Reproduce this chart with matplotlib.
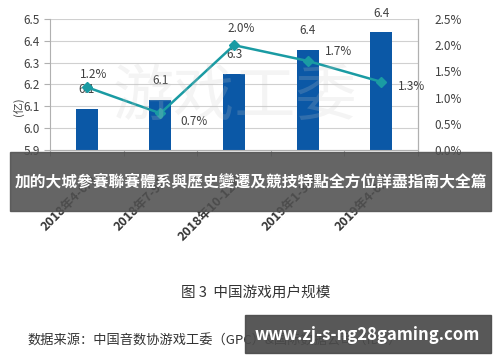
import numpy as np
import matplotlib
matplotlib.use("Agg")
import matplotlib.pyplot as plt
from matplotlib.patches import Rectangle

plt.rcParams['font.family'] = ['Noto Sans CJK SC', 'DejaVu Sans']

periods = ["2018年4-6月", "2018年7-9月", "2018年10-12月", "2019年1-3月", "2019年4-6月"]
users = [6.09, 6.13, 6.25, 6.36, 6.44]          # 亿
user_labels = ["6.1", "6.1", "6.3", "6.4", "6.4"]
growth = [1.2, 0.7, 2.0, 1.7, 1.3]              # %
growth_labels = ["1.2%", "0.7%", "2.0%", "1.7%", "1.3%"]

banner = "加的大城參賽聯賽體系與歷史變遷及競技特點全方位詳盡指南大全篇"
caption = "图 3  中国游戏用户规模"
source = "数据来源：中国音数协游戏工委（GPC）&国际数据公司（IDC）"
site = "www.zj-s-ng28gaming.com"

bar_color = "#0b58a6"
line_color = "#1a9ba3"
txt = "#404040"

fig = plt.figure(figsize=(5, 3.62), dpi=100)
ax = fig.add_axes([0.1, 0.5856, 0.736, 0.362])
x = np.arange(len(periods))

ax.bar(x, users, width=0.3, color=bar_color, zorder=2)
ax.set_ylim(5.9, 6.5)
ax.set_xlim(-0.5, len(periods) - 0.5)
ax.set_yticks(np.arange(5.9, 6.51, 0.1))
ax.set_yticklabels(["%.1f" % v for v in np.arange(5.9, 6.51, 0.1)])
ax.yaxis.grid(True, color="#d0d0d0", lw=0.8, zorder=0)
ax.set_axisbelow(True)
ax.spines["top"].set_visible(False)
for s in ["left", "bottom", "right"]:
    ax.spines[s].set_color("#b0b0b0")
ax.tick_params(axis="y", colors=txt, labelsize=8.5, length=4, color="#b0b0b0")
ax.set_xticks(np.arange(-0.5, len(periods), 1.0))
ax.set_xticklabels([])
ax.tick_params(axis="x", length=4, color="#b0b0b0")
for i, p in enumerate(periods):
    ax.text(i + 0.18, 5.80, p, rotation=45, ha="right", va="top",
            fontsize=9, color="#333333", fontweight="bold", clip_on=False)
for i, (v, lab) in enumerate(zip(users, user_labels)):
    ax.annotate(lab, (i, v), xytext=(0, 9), textcoords="offset points",
                ha="center", va="bottom", fontsize=8.5, color=txt)
ax.text(-0.085, 0.33, "(亿)", transform=ax.transAxes, rotation=90,
        ha="center", va="center", fontsize=8, color=txt)

ax2 = ax.twinx()
ax2.plot(x, growth, color=line_color, lw=1.8, marker="D", ms=5, zorder=3)
ax2.set_ylim(0, 2.5)
ax2.set_yticks(np.arange(0, 2.51, 0.5))
ax2.set_yticklabels(["%.1f%%" % v for v in np.arange(0, 2.51, 0.5)])
ax2.tick_params(axis="y", colors=txt, labelsize=8.5, length=0, pad=12)
for s in ["top", "left", "bottom"]:
    ax2.spines[s].set_visible(False)
ax2.spines["right"].set_color("#b0b0b0")
offsets = [(5, 9), (24, -6), (5, 12), (22, 7), (22, -3)]
for i, (g, lab) in enumerate(zip(growth, growth_labels)):
    ax2.annotate(lab, (i, g), xytext=offsets[i], textcoords="offset points",
                 ha="center", va="center", fontsize=8.5, color=txt)

# faint watermark over the plot
fig.text(0.47, 0.73, "游戏工委", fontsize=44, color="#c8c8c8", alpha=0.2,
         ha="center", va="center", zorder=5, fontweight="light")

# banner overlay
fig.patches.append(Rectangle((0.02, 1 - 211 / 362), 0.962, 59 / 362,
                             transform=fig.transFigure, color="#505050",
                             alpha=0.88, zorder=10))
fig.text(0.501, 1 - 182 / 362, banner, ha="center", va="center",
         fontsize=11.3, color="white", fontweight="bold", zorder=11)

fig.text(0.512, 1 - 293 / 362, caption, ha="center", va="center",
         fontsize=10.5, color="#333333")
fig.text(0.054, 1 - 341 / 362, source, ha="left", va="center",
         fontsize=9.5, color="#333333")

fig.patches.append(Rectangle((0.49, 1 - 353 / 362), 0.492, 38 / 362,
                             transform=fig.transFigure, color="#4a4a4a",
                             alpha=0.92, zorder=10))
fig.text(0.735, 1 - 335 / 362, site, ha="center", va="center",
         fontsize=12, color="white", fontweight="bold", zorder=11)

fig.savefig("out.png", dpi=100)
